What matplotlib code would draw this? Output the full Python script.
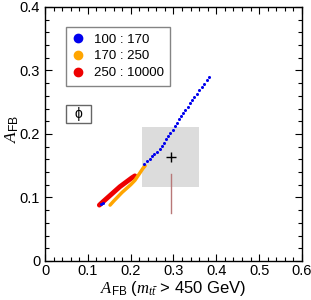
import numpy as np
import matplotlib
matplotlib.use('Agg')
import matplotlib.pyplot as plt
from matplotlib.lines import Line2D
from matplotlib.patches import Rectangle
from matplotlib.ticker import MultipleLocator, FuncFormatter

plt.rcParams['font.family'] = ['Liberation Sans', 'DejaVu Sans']
plt.rcParams['mathtext.fontset'] = 'custom'
plt.rcParams['mathtext.it'] = 'Liberation Serif:italic'
plt.rcParams['mathtext.rm'] = 'Liberation Sans'

# A_FB(m_tt > 450) vs A_FB
blue_x = [0.131, 0.136, 0.232, 0.238, 0.245, 0.250, 0.255, 0.262, 0.268, 0.273, 0.278,
          0.283, 0.288, 0.293, 0.298, 0.303, 0.308, 0.313, 0.318, 0.323, 0.328,
          0.333, 0.338, 0.343, 0.348, 0.354, 0.360, 0.366, 0.372, 0.378, 0.384]
blue_y = [0.089, 0.092, 0.152, 0.157, 0.160, 0.165, 0.168, 0.172, 0.177, 0.181, 0.186,
          0.192, 0.197, 0.202, 0.207, 0.212, 0.218, 0.223, 0.228, 0.233, 0.238,
          0.243, 0.248, 0.253, 0.258, 0.263, 0.269, 0.274, 0.279, 0.285, 0.290]
red_x = [0.127, 0.135, 0.145, 0.155, 0.165, 0.175, 0.185, 0.195, 0.203, 0.210]
red_y = [0.088, 0.093, 0.099, 0.105, 0.111, 0.117, 0.122, 0.127, 0.131, 0.134]
orange_x = [0.152, 0.160, 0.170, 0.180, 0.190, 0.200, 0.210, 0.217, 0.223, 0.229, 0.234]
orange_y = [0.088, 0.094, 0.101, 0.108, 0.114, 0.120, 0.127, 0.134, 0.140, 0.146, 0.150]

labels = ['100 : 170', '170 : 250', '250 : 10000']
colors = ['#0000ee', '#ffa500', '#ee0000']

# measured value and band
meas_x, meas_y = 0.294, 0.164
band_x = (0.226, 0.360)
band_y = (0.117, 0.211)
sm_x = 0.294
sm_y = (0.076, 0.137)

fig = plt.figure(figsize=(3.11, 3.00), dpi=100)
ax = fig.add_axes([0.1447, 0.13, 0.826, 0.847])

ax.fill_between(band_x, band_y[0], band_y[1], color='#dcdcdc', lw=0, zorder=1)
ax.plot([sm_x, sm_x], sm_y, color='#b87878', lw=1.0, zorder=2)
ax.plot(meas_x, meas_y, marker='+', color='black', ms=7, mew=1.0, zorder=5)

ax.plot(red_x, red_y, color=colors[2], lw=3.5, solid_capstyle='round', zorder=3)
ax.plot(orange_x, orange_y, color=colors[1], lw=2.5, solid_capstyle='round', zorder=3)
ax.plot(blue_x, blue_y, ls='none', marker='o', ms=2.2, color=colors[0], mew=0, zorder=4)

def fmt(v, pos):
    return '0' if abs(v) < 1e-9 else '%.1f' % v

ax.set_xlim(0, 0.6)
ax.set_ylim(0, 0.4)
ax.xaxis.set_major_locator(MultipleLocator(0.1))
ax.xaxis.set_minor_locator(MultipleLocator(0.02))
ax.yaxis.set_major_locator(MultipleLocator(0.1))
ax.yaxis.set_minor_locator(MultipleLocator(0.02))
ax.xaxis.set_major_formatter(FuncFormatter(fmt))
ax.yaxis.set_major_formatter(FuncFormatter(fmt))
ax.tick_params(which='both', direction='in', top=True, right=True, labelsize=10.5)
ax.tick_params(which='major', length=5, width=0.8)
ax.tick_params(which='minor', length=3, width=0.8)
ax.tick_params(axis='x', pad=2)
for s in ax.spines.values():
    s.set_linewidth(1.0)

ax.set_xlabel(r'$A_{\rm FB}$ ($m_{t\bar{t}}$ > 450 GeV)', fontsize=12, labelpad=1)
ax.set_ylabel(r'$A_{\rm FB}$', fontsize=12.5)
ax.yaxis.set_label_coords(-0.092, 0.52)

handles = [Line2D([], [], ls='none', marker='o', ms=6, color=c) for c in colors]
leg = ax.legend(handles, labels, loc='upper left', bbox_to_anchor=(0.082, 0.922),
                fontsize=9.5, frameon=True, fancybox=False, borderaxespad=0,
                handlelength=0.8, handletextpad=0.8, borderpad=0.5, labelspacing=0.35)
leg.get_frame().set_edgecolor('#666666')
leg.get_frame().set_linewidth(1.0)

ax.add_patch(Rectangle((0.082, 0.544), 0.096, 0.070, transform=ax.transAxes,
                       fc='white', ec='#666666', lw=1.0, zorder=6))
ax.text(0.130, 0.579, 'ϕ', transform=ax.transAxes, ha='center', va='center',
        fontsize=10, zorder=7)

fig.savefig('out.png', dpi=100)
